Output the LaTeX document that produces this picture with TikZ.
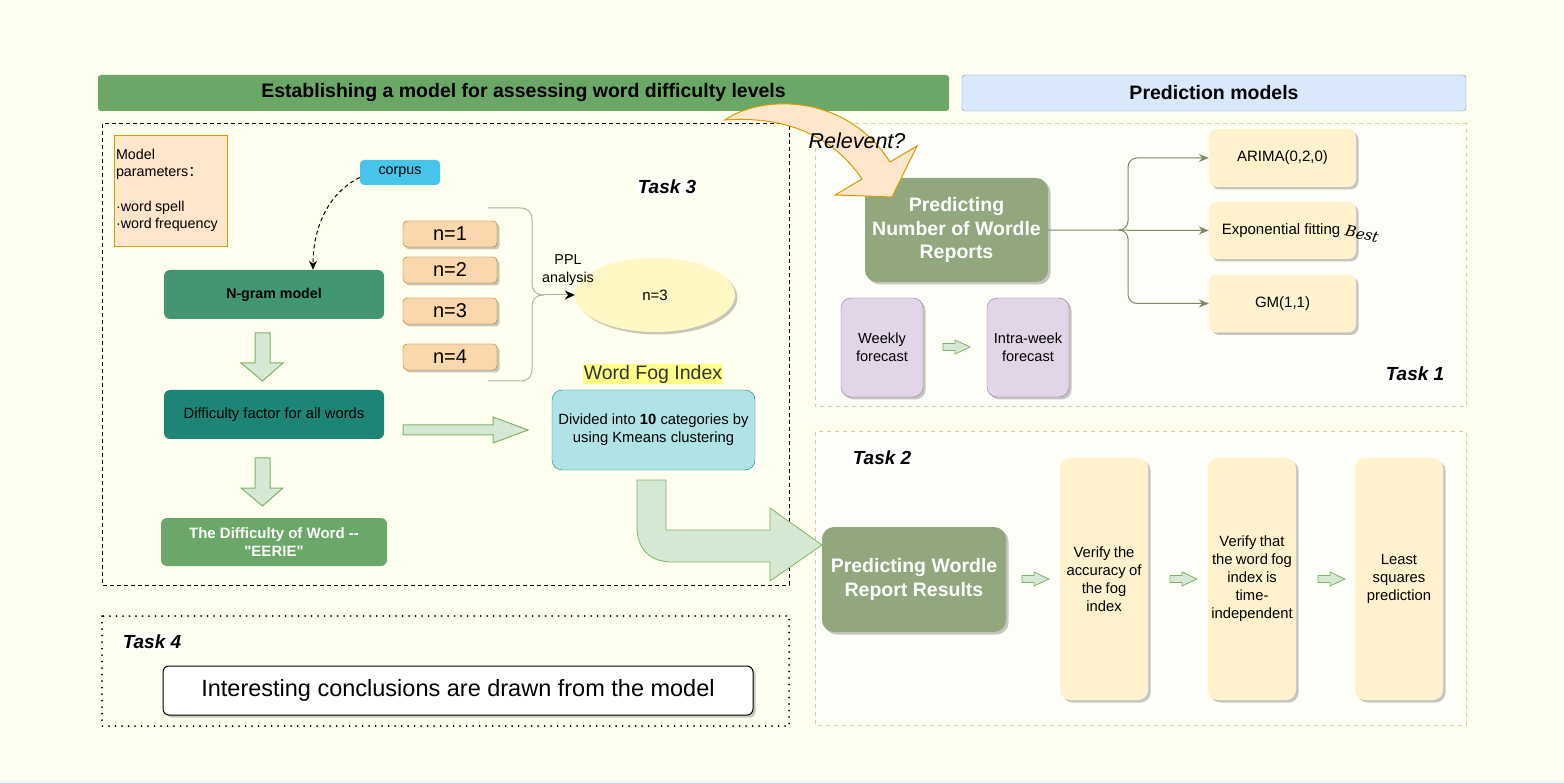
\documentclass[tikz,border=0pt]{standalone}
\usepackage{fontspec}
\setmainfont{Liberation Sans}
\newfontfamily\cjk{Noto Sans CJK SC}
\newfontfamily\bestfont{DejaVu Serif}
\usetikzlibrary{arrows.meta,shadows,shapes.geometric,calc}
\definecolor{bg}{HTML}{FFFFF0}
\definecolor{hdrgreen}{HTML}{6BA767}
\definecolor{hdrblue}{HTML}{DAE8FC}
\definecolor{hdrblueb}{HTML}{6C8EBF}
\definecolor{paramfill}{HTML}{FFE6CC}
\definecolor{parambord}{HTML}{D79B00}
\definecolor{corpusc}{HTML}{47C4EA}
\definecolor{ngramc}{HTML}{429671}
\definecolor{diffc}{HTML}{1C8576}
\definecolor{wordc}{HTML}{6AA768}
\definecolor{nfill}{HTML}{FAD7AC}
\definecolor{nbord}{HTML}{B46504}
\definecolor{ellc}{HTML}{FFF8C5}
\definecolor{fogc}{HTML}{FFFF88}
\definecolor{kfill}{HTML}{B0E3E6}
\definecolor{kbord}{HTML}{0E8088}
\definecolor{hafill}{HTML}{D5E8D4}
\definecolor{habord}{HTML}{82B366}
\definecolor{predc}{HTML}{92A77D}
\definecolor{yellowc}{HTML}{FFF2CC}
\definecolor{purfill}{HTML}{E1D5E7}
\definecolor{purbord}{HTML}{9673A6}
\definecolor{beige}{HTML}{D6CCA0}
\definecolor{connc}{HTML}{7B8C69}
\definecolor{bracec}{HTML}{A8B795}
\definecolor{innerbg}{HTML}{FEFEF8}
\definecolor{fogtext}{HTML}{333333}
\definecolor{stripc}{HTML}{F3F6F8}
\tikzset{
  sh/.style={drop shadow={shadow xshift=2.5pt,shadow yshift=-2.5pt,fill=black,opacity=0.22}},
  fs/.style={execute at begin node={\fontsize{#1}{\fpeval{1.22*#1}}\selectfont}},
  hdr/.style={minimum width=#1, minimum height=36pt, rounded corners=3pt, inner sep=0pt},
  box/.style={rounded corners=6pt, inner sep=2pt, align=center},
  nbox/.style={box, sh, fill=nfill, draw=nbord, minimum width=94pt, minimum height=26pt, rounded corners=4pt, fs=20},
  ybox/.style={box, sh, fill=yellowc, minimum width=147pt, minimum height=58pt, fs=15, rounded corners=8pt},
  tallbox/.style={box, sh, fill=yellowc, minimum width=86pt, minimum height=242pt, text width=84pt, fs=14.8, rounded corners=10pt},
  purbox/.style={box, sh, fill=purfill, draw=purbord, minimum width=82pt, minimum height=99pt, fs=14.6, rounded corners=10pt},
  predbox/.style={box, sh, fill=predc, text=white, font=\bfseries, fs=19.5, rounded corners=12pt},
  tasklbl/.style={fill=white, inner sep=1pt, font=\bfseries\itshape, fs=19},
  harrow/.style={fill=hafill, draw=habord, line width=1pt, line join=miter},
  conn/.style={draw=connc, line width=1pt, -{Stealth[length=10pt,width=8pt]}},
}
\begin{document}
\begin{tikzpicture}[x=1pt,y=-1pt]
\useasboundingbox (0,0) rectangle (1564,783);
\fill[bg] (0,0) rectangle (1564,783);
\fill[stripc] (0,780) rectangle (1564,783);

% headers
\node[hdr=851pt, fill=hdrgreen, fs=19.5, font=\bfseries] (hl) at (523.5,93) {Establishing a model for assessing word difficulty levels};
\node[hdr=504pt, fill=hdrblue, draw=hdrblueb, fs=19.5, font=\bfseries] (hr) at (1214,93) {Prediction models};

% containers
\draw[line width=1pt, dash pattern=on 4pt off 3pt] (102,124) rectangle (789,585);
\draw[beige, fill=innerbg, line width=1pt, dash pattern=on 4pt off 4pt] (815,124) rectangle (1466,407);
\draw[beige, fill=innerbg, line width=1pt, dash pattern=on 4pt off 4pt] (815,432) rectangle (1466,725);
\draw[line width=2pt, line cap=round, dash pattern=on 0pt off 6.5pt] (102,616) rectangle (789,726);

% left panel
\node[fill=paramfill, draw=parambord, minimum width=113pt, minimum height=111pt, text width=109pt, align=left, inner sep=1pt, fs=14.3] (param) at (170.5,190.5)
  {Model\\parameters{\cjk ：}\\[17pt]·word spell\\·word frequency};
\node[box, fill=corpusc, minimum width=80pt, minimum height=25pt, rounded corners=4pt, fs=14.3] (corpus) at (400,172.5) {corpus};
\node[box, fill=ngramc, minimum width=220pt, minimum height=49pt, fs=14.2, font=\bfseries] (ngram) at (274,294.5) {N-gram model};
\node[box, fill=diffc, minimum width=220pt, minimum height=49pt, fs=14.8] (diff) at (274,414.5) {Difficulty factor for all words};
\node[box, fill=wordc, minimum width=226pt, minimum height=48pt, fs=15, font=\bfseries, text=white] (word) at (274,542) {The Difficulty of Word -{}-\\\textquotedbl EERIE\textquotedbl};

\coordinate (ngtop) at ($(ngram.north)+(39,0)$);
\draw[line width=1pt, dash pattern=on 4pt off 3pt, -{Stealth[length=9pt,width=8pt]}] ($(corpus.west)+(0,5)$) .. controls (330,192) and (313,225) .. (ngtop);

% down block arrows
\draw[harrow] (255,333) -- (270,333) -- (270,363) -- (283,363) -- (262.5,381) -- (241,363) -- (255,363) -- cycle;
\draw[harrow] (255,458) -- (270,458) -- (270,488) -- (283,488) -- (262.5,506) -- (241,488) -- (255,488) -- cycle;
% right block arrow
\draw[harrow] (403,425) -- (493,425) -- (493,417) -- (528,430) -- (493,443) -- (493,435) -- (403,435) -- cycle;

% n boxes
\node[nbox] (n1) at (450,234) {n=1};
\node[nbox] (n2) at (450,270) {n=2};
\node[nbox] (n3) at (450,311) {n=3};
\node[nbox] (n4) at (450,357) {n=4};

% ellipse
\node[ellipse, sh, fill=ellc, minimum width=160pt, minimum height=74pt, fs=15] (ell) at (655,295) {n=3};
% brace
\draw[bracec, line width=1pt] (488,208) -- (520,208) .. controls (528,208) and (532,212) .. (532,220) -- (532,283) .. controls (532,291) and (536,295) .. (544,295);
\draw[bracec, line width=1pt] (488,381) -- (520,381) .. controls (528,381) and (532,377) .. (532,369) -- (532,307) .. controls (532,299) and (536,295) .. (544,295);
\coordinate (bt) at (544,295);
\draw[bracec, line width=1pt, -{Stealth[length=10pt,width=9pt,black]}] (bt) -- (ell.west);
\node[fs=14.3, align=center] (ppl) at (568,270) {PPL\\analysis};

\node[fill=fogc, inner sep=1pt, text=fogtext, fs=19.5] (fog) at (653,374) {Word Fog Index};
\node[box, fill=kfill, draw=kbord, minimum width=203pt, minimum height=80pt, rounded corners=10pt, fs=14.8] (kmeans) at (653.5,430) {Divided into \textbf{10} categories by\\using Kmeans clustering};

\node[tasklbl] (t3) at (667,187) {Task 3};

% bent arrow
\draw[harrow, line width=0.8pt] (637,480) -- (666,480) -- (666,530) -- (770,530) -- (770,508) -- (822,545) -- (770,581) -- (770,562) -- (672,562) .. controls (650,562) and (637,549) .. (637,527) -- cycle;

% task 4
\node[tasklbl] (t4) at (152,642) {Task 4};
\node[box, sh, fill=white, draw=black, line width=1pt, minimum width=590pt, minimum height=49pt, fs=23.5] (concl) at (458,690.5) {Interesting conclusions are drawn from the model};

% task 1 area
\node[predbox, minimum width=183pt, minimum height=104pt] (pnum) at (956.5,230) {Predicting\\Number of Wordle\\Reports};
\node[ybox] (arima) at (1282.5,158) {ARIMA(0,2,0)};
\node[ybox, minimum height=57pt] (expo) at (1282.5,230.5) {Exponential fitting\hspace*{3pt}};
\node[ybox] (gm) at (1282.5,303.5) {GM(1,1)};
\node[rotate=-12, fs=15, font=\bestfont\itshape] (best) at (1362,234) {Best};
\coordinate (jn) at (1120,230);
\draw[conn] (pnum.east) -- (expo.west);
\draw[conn, rounded corners=9pt] (jn) -| (1128,158) -- (arima.west);
\draw[conn, rounded corners=9pt] (jn) -| (1128,303.5) -- (gm.west);

\node[purbox] (weekly) at (882,347.5) {Weekly\\forecast};
\node[purbox] (intra) at (1028,347.5) {Intra-week\\forecast};
\draw[harrow, line width=0.8pt] (943,343.5) -- (955,343.5) -- (955,340) -- (970,347) -- (955,354) -- (955,350.5) -- (943,350.5) -- cycle;
\node[tasklbl] (t1) at (1415,374) {Task 1};

% task 2 area
\node[tasklbl] (t2) at (882,458) {Task 2};
\node[predbox, minimum width=184pt, minimum height=105pt] (pres) at (914,579.5) {Predicting Wordle\\Report Results};
\node[tallbox] (v1) at (1104,579) {Verify the\\accuracy of\\the fog\\index};
\node[tallbox] (v2) at (1252,579) {Verify that\\the word fog\\index is\\time-\\independent};
\node[tallbox] (v3) at (1399,579) {Least\\squares\\prediction};
\foreach \x in {1022,1170,1318}{
  \draw[harrow, line width=0.8pt] (\x,575.5) -- (\x+12,575.5) -- (\x+12,572) -- (\x+27,579) -- (\x+12,586) -- (\x+12,582.5) -- (\x,582.5) -- cycle;
}

% relevant arrow
\draw[fill=paramfill, draw=parambord, line width=1pt, line join=miter] (725,120) .. controls (760,95) and (845,92) .. (890,162) -- (917,146) -- (892,197) -- (835,195) -- (862,179) .. controls (830,132) and (780,116) .. (725,120) -- cycle;
\node[fs=21.5, font=\itshape] (rel) at (857,141) {Relevent?};
\end{tikzpicture}
\end{document}
